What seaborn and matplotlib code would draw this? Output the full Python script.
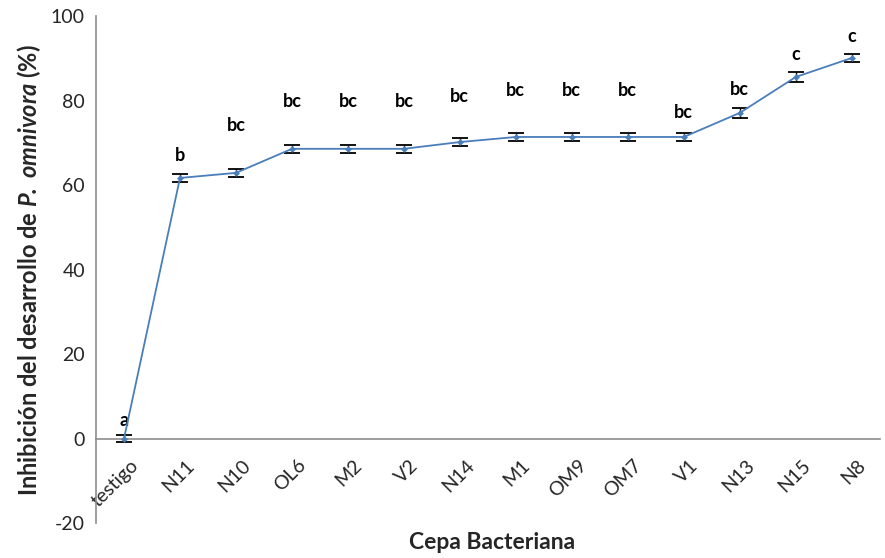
import matplotlib
matplotlib.use("Agg")
import matplotlib.pyplot as plt
import matplotlib.transforms as mtransforms
import seaborn as sns
import numpy as np
import pandas as pd

categories = ["testigo", "N11", "N10", "OL6", "M2", "V2", "N14", "M1", "OM9", "OM7", "V1", "N13", "N15", "N8"]
values = [0.0, 61.7, 62.9, 68.6, 68.6, 68.6, 70.2, 71.4, 71.4, 71.4, 71.4, 77.1, 85.6, 90.1]
errors = [0.9, 1.0, 1.0, 1.0, 1.0, 1.0, 1.0, 1.0, 1.0, 1.0, 1.0, 1.1, 1.2, 1.0]
letters = ["a", "b", "bc", "bc", "bc", "bc", "bc", "bc", "bc", "bc", "bc", "bc", "c", "c"]
letter_y = [4.3, 67.1, 74.0, 79.7, 79.7, 79.7, 81.1, 82.5, 82.5, 82.5, 77.1, 82.7, 91.0, 95.3]
yticks = [-20, 0, 20, 40, 60, 80, 100]

sns.set_style("white")
plt.rcParams["font.family"] = ["Lato", "DejaVu Sans"]
plt.rcParams["mathtext.fontset"] = "custom"
plt.rcParams["mathtext.bfit"] = "Lato:italic:bold"
plt.rcParams["mathtext.it"] = "Lato:italic"
plt.rcParams["mathtext.bf"] = "Lato:bold"
plt.rcParams["mathtext.rm"] = "Lato"

pos = np.arange(len(categories))
df = pd.DataFrame({"pos": pos, "cepa": categories, "val": values})

fig = plt.figure(figsize=(8.85, 5.58), dpi=100)
ax = fig.add_axes([0.1085, 0.0627, 0.994 - 0.1085, 0.971 - 0.0627])

ax.errorbar(df["pos"], df["val"], yerr=errors, fmt="none", ecolor="black", elinewidth=1.0,
            capsize=6, capthick=1.3, zorder=3)
sns.lineplot(data=df, x="pos", y="val", sort=False, ax=ax, color="#4A7EBB",
             linewidth=1.3, marker="D", markersize=3.5, markeredgewidth=0, zorder=4)

for i, (t, yv) in enumerate(zip(letters, letter_y)):
    ax.text(i, yv, t, ha="center", va="center", fontsize=13, fontweight="bold", color="black")

for s in ["top", "right"]:
    ax.spines[s].set_visible(False)
ax.spines["bottom"].set_position(("data", 0))
ax.spines["bottom"].set_color("#8C8C8C")
ax.spines["left"].set_color("#8C8C8C")
ax.spines["bottom"].set_linewidth(1.2)
ax.spines["left"].set_linewidth(1.2)

ax.set_xlim(-0.5, len(categories) - 0.5)
ax.set_ylim(-20, 100)
ax.set_yticks(yticks)
ax.set_yticklabels([str(v) for v in yticks], fontsize=14)

ax.set_xticks(pos)
ax.set_xticklabels(categories, fontsize=14, rotation=45, ha="right", rotation_mode="anchor")
ax.set_xticks(np.arange(-0.5, len(categories), 1.0)[1:-1], minor=True)
ax.tick_params(axis="x", which="major", length=0, pad=13)
ax.tick_params(axis="x", which="minor", length=5, width=1, color="#8C8C8C", direction="out")
ax.tick_params(axis="y", which="major", length=5, width=1, color="#8C8C8C", direction="out", pad=3)

offset = mtransforms.ScaledTranslation(4 / 72, 0, fig.dpi_scale_trans)
for lab in ax.get_xticklabels():
    lab.set_transform(lab.get_transform() + offset)

ax.set_xlabel("")
ax.set_ylabel(r"Inhibición del desarrollo de $\mathbfit{P.\ omnivora}$ (%)",
              fontsize=17, fontweight="bold", labelpad=6)
fig.text(0.5565, 0.027, "Cepa Bacteriana", ha="center", va="center", fontsize=16.5, fontweight="bold")

fig.savefig("out.png", dpi=100)
